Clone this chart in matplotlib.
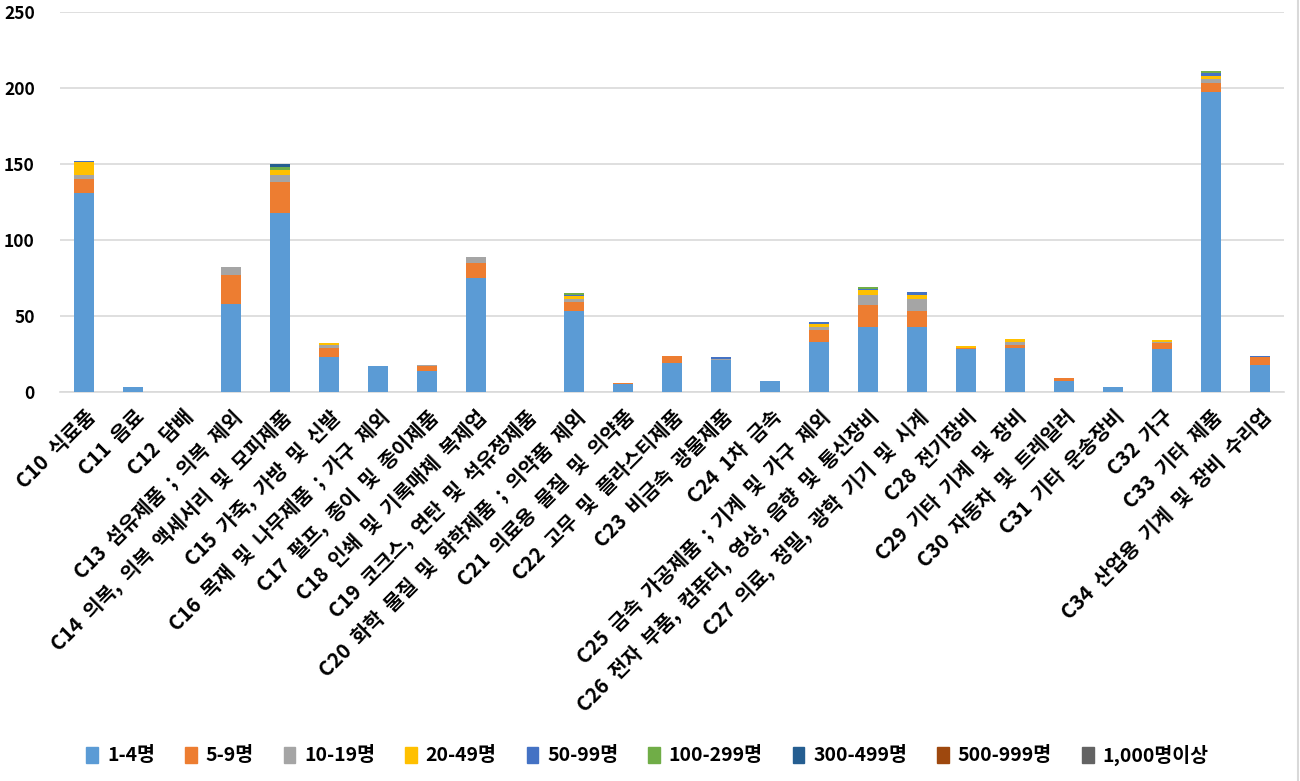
import matplotlib
matplotlib.use("Agg")
import matplotlib.pyplot as plt
from matplotlib.patches import Rectangle
import numpy as np

plt.rcParams['font.family'] = ['Noto Sans CJK KR', 'DejaVu Sans']

categories = [
    "C10 식료품", "C11 음료", "C12 담배", "C13 섬유제품 ; 의복 제외",
    "C14 의복, 의복 액세서리 및 모피제품", "C15 가죽, 가방 및 신발",
    "C16 목재 및 나무제품 ; 가구 제외", "C17 펄프, 종이 및 종이제품",
    "C18 인쇄 및 기록매체 복제업", "C19 코크스, 연탄 및 석유정제품",
    "C20 화학 물질 및 화학제품 ; 의약품 제외", "C21 의료용 물질 및 의약품",
    "C22 고무 및 플라스티제품", "C23 비금속 광물제품", "C24 1차 금속",
    "C25 금속 가공제품 ; 기계 및 가구 제외", "C26 전자 부품, 컴퓨터, 영상, 음향 및 통신장비",
    "C27 의료, 정밀, 광학 기기 및 시계", "C28 전기장비", "C29 기타 기계 및 장비",
    "C30 자동차 및 트레일러", "C31 기타 운송장비", "C32 가구", "C33 기타 제품",
    "C34 산업용 기계 및 장비 수리업",
]

series_names = ["1-4명", "5-9명", "10-19명", "20-49명", "50-99명",
                "100-299명", "300-499명", "500-999명", "1,000명이상"]

s_1_4     = [131, 3, 0, 58, 118, 23, 17, 14, 75, 0, 53, 5, 19, 21, 7, 33, 43, 43, 28, 29, 7, 3, 28, 197, 18]
s_5_9     = [9, 0, 0, 19, 20, 6, 0, 3, 10, 0, 6, 1, 5, 0, 0, 8, 14, 10, 1, 2, 2, 0, 4, 6, 5]
s_10_19   = [3, 0, 0, 5, 5, 2, 0, 1, 4, 0, 2, 0, 0, 1, 0, 2, 7, 8, 0, 2, 0, 0, 1, 3, 0]
s_20_49   = [8, 0, 0, 0, 3, 1, 0, 0, 0, 0, 2, 0, 0, 0, 0, 2, 3, 3, 1, 2, 0, 0, 1, 2, 0]
s_50_99   = [1, 0, 0, 0, 0, 0, 0, 0, 0, 0, 1, 0, 0, 1, 0, 1, 1, 2, 0, 0, 0, 0, 0, 2, 1]
s_100_299 = [0, 0, 0, 0, 2, 0, 0, 0, 0, 0, 1, 0, 0, 0, 0, 0, 1, 0, 0, 0, 0, 0, 0, 1, 0]
s_300_499 = [0, 0, 0, 0, 2, 0, 0, 0, 0, 0, 0, 0, 0, 0, 0, 0, 0, 0, 0, 0, 0, 0, 0, 0, 0]
s_500_999 = [0] * 25
s_1000    = [0] * 25

series = [s_1_4, s_5_9, s_10_19, s_20_49, s_50_99, s_100_299, s_300_499, s_500_999, s_1000]
colors = ["#5B9BD5", "#ED7D31", "#A5A5A5", "#FFC000", "#4472C4",
          "#70AD47", "#255E91", "#9E480E", "#636363"]

yticks = [0, 50, 100, 150, 200, 250]

fig = plt.figure(figsize=(13, 7.81), dpi=100)
ax = fig.add_axes([0.046, 0.498, 0.942, 0.487])

x = np.arange(len(categories))
bottom = np.zeros(len(categories))
handles = []
for name, vals, c in zip(series_names, series, colors):
    v = np.array(vals, dtype=float)
    ax.bar(x, v, width=0.41, bottom=bottom, color=c, label=name, zorder=3)
    bottom += v
    handles.append(Rectangle((0, 0), 1, 1, color=c))

ax.set_xlim(-0.5, len(categories) - 0.5)
ax.set_ylim(0, 250)
ax.set_yticks(yticks)
ax.set_yticklabels([str(t) for t in yticks], fontsize=12.5, fontweight='bold')
ax.yaxis.grid(True, color='#D9D9D9', linewidth=1.2, zorder=0)
ax.set_axisbelow(True)
for s in ['top', 'right', 'left']:
    ax.spines[s].set_visible(False)
ax.spines['bottom'].set_color('#D9D9D9')
ax.spines['bottom'].set_linewidth(1.2)
ax.tick_params(axis='both', length=0)
ax.tick_params(axis='y', pad=18)

ax.set_xticks(x)
ax.set_xticklabels([c.replace(" ", "  ") for c in categories], rotation=45, ha='right',
                   rotation_mode='anchor', fontsize=14.5, fontweight='bold')
ax.tick_params(axis='x', pad=10)

leg = fig.legend(handles, series_names, loc='center',
                 bbox_to_anchor=(0.498, 1 - 755 / 781),
                 ncol=9, frameon=False, handlelength=0.6, handleheight=0.9,
                 columnspacing=1.55, handletextpad=0.45,
                 prop={'weight': 'bold', 'size': 14})

# chart frame on the right
fig.add_artist(plt.Line2D([0.9985, 0.9985], [0, 1], color='#D9D9D9', linewidth=1.5,
                          transform=fig.transFigure))

fig.savefig("out.png", dpi=100)
